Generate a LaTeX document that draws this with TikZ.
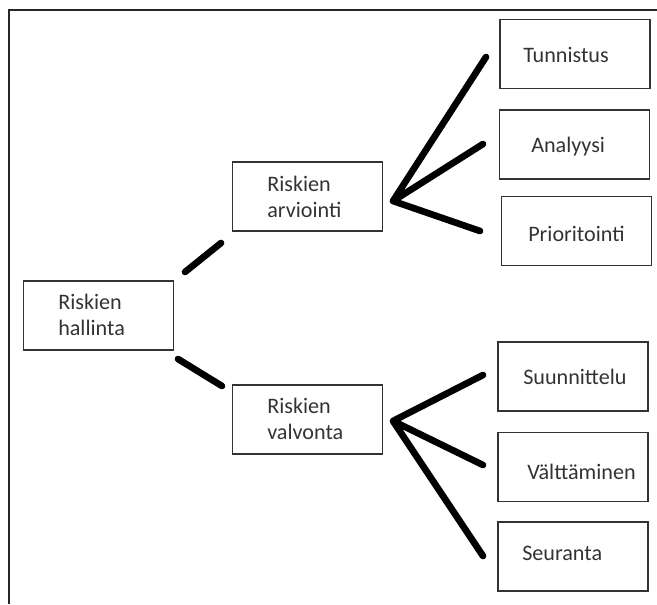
\documentclass[tikz,border=0pt]{standalone}
\usepackage{fontspec}
\setmainfont{Carlito}
\tikzset{
  box/.style={draw=black!80,line width=1.1pt,minimum width=112.5pt,minimum height=52pt,inner sep=0pt},
  txt/.style={anchor=west,align=left,inner sep=0pt,text=black!80,font=\fontsize{16.6}{19.5}\selectfont},
  link/.style={line width=5pt,line cap=round,line join=round}
}
\begin{document}
\begin{tikzpicture}[x=0.75pt,y=-0.75pt]
        \useasboundingbox (0,0) rectangle (657,604);
        \draw[line width=1.5pt,black!85] (9,604) -- (9,10) -- (657,10);

        % boxes
        \node[box] (hall) at (98.5,315.5) {};
        \node[box] (arv) at (307.5,196.5) {};
        \node[box] (valv) at (307.5,419.5) {};
        \node[box] (tun) at (575,54) {};
        \node[box] (ana) at (574.5,144.5) {};
        \node[box] (pri) at (576.5,231) {};
        \node[box] (suu) at (573,376.5) {};
        \node[box] (valt) at (573,467) {};
        \node[box] (seu) at (573,556.5) {};

        % texts
        \node[txt] (hall-t) at (58,315) {Riskien\\hallinta};
        \node[txt] (arv-t) at (267,197) {Riskien\\arviointi};
        \node[txt] (valv-t) at (267,419) {Riskien\\valvonta};
        \node[txt] (tun-t) at (523,55) {Tunnistus};
        \node[txt] (ana-t) at (531,147) {Analyysi};
        \node[txt] (pri-t) at (528,234) {Prioritointi};
        \node[txt] (suu-t) at (523,377) {Suunnittelu};
        \node[txt] (valt-t) at (527,472) {Välttäminen};
        \node[txt] (seu-t) at (522,553) {Seuranta};

        % line ends
        \coordinate (h1) at (185,272);
        \coordinate (a0) at (221,243);
        \coordinate (h2) at (178,359);
        \coordinate (v0) at (222,386);
        \coordinate (ahub) at (393,201);
        \coordinate (a1) at (486,57);
        \coordinate (a2) at (483,144);
        \coordinate (a3) at (480,231);
        \coordinate (vhub) at (393,421);
        \coordinate (v1) at (483,375);
        \coordinate (v2) at (483,465);
        \coordinate (v3) at (483,556);

        \draw[link] (h1) -- (a0);
        \draw[link] (h2) -- (v0);
        \draw[link] (a1) -- (ahub) -- (a2) (ahub) -- (a3);
        \draw[link] (v1) -- (vhub) -- (v2) (vhub) -- (v3);
      \end{tikzpicture}
\end{document}
